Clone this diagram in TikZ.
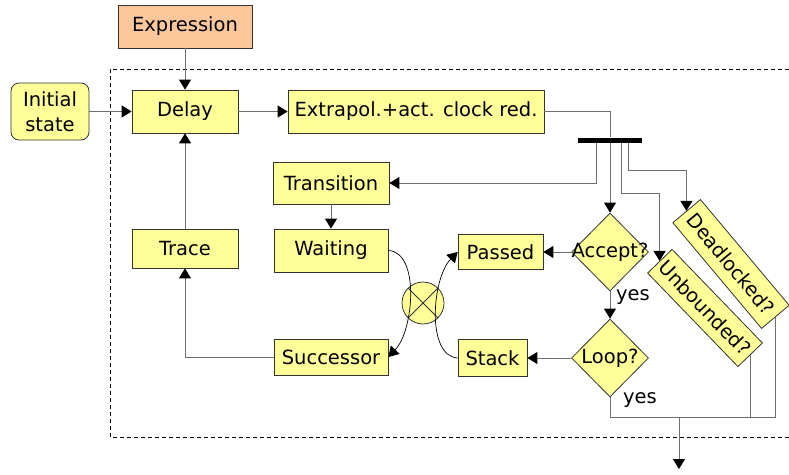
\documentclass[tikz,border=0pt]{standalone}
\usepackage{fontspec}
\setmainfont{DejaVu Sans}
\usetikzlibrary{shapes.geometric,arrows.meta}

\definecolor{boxyellow}{HTML}{FFFF99}
\definecolor{boxorange}{HTML}{FCC89B}
\definecolor{wiregray}{HTML}{6E6E6E}

\begin{document}
\begin{tikzpicture}[x=1pt,y=-1pt,
    >={Triangle[length=10pt,width=12pt,color=black]},
    every node/.style={font=\fontsize{19.5}{22}\selectfont},
    box/.style={draw=black!80,fill=boxyellow,inner sep=0pt,line width=0.8pt},
    cond/.style={diamond,draw=black!80,fill=boxyellow,inner sep=0pt,line width=0.8pt,
      minimum width=77pt,minimum height=78pt},
    flow/.style={->,draw=wiregray,line width=1pt},
    wire/.style={draw=wiregray,line width=1pt}]
    \useasboundingbox (0,0) rectangle (789,474);

    % Frame of the loop
    \draw[dash pattern=on 4pt off 3pt,line width=0.8pt] (789,69) -- (110,69) -- (110,437) -- (789,437);

    % Boxes
    \node[box,fill=boxorange,minimum width=134pt,minimum height=43pt] (expr) at (185,26.5) {Expression};
    \node[box,rounded corners=8pt,align=center,minimum width=78pt,minimum height=57pt,
      font=\fontsize{19.5}{25}\selectfont] (init) at (50,111.5) {Initial\\state};
    \node[box,minimum width=106pt,minimum height=43pt] (delay) at (185,111.5) {Delay};
    \node[box,minimum width=256pt,minimum height=43pt] (extra) at (416,111.5) {Extrapol.+act. clock red.};
    \node[box,minimum width=116pt,minimum height=42pt] (trans) at (331,183) {Transition};
    \node[box,minimum width=114pt,minimum height=43pt] (wait) at (331,250.5) {Waiting};
    \node[box,minimum width=106pt,minimum height=39pt] (trace) at (185,248.5) {Trace};
    \node[box,minimum width=114pt,minimum height=36pt] (succ) at (331,357) {Successor};
    \node[box,minimum width=85pt,minimum height=35pt] (passed) at (500.5,252) {Passed};
    \node[box,minimum width=69pt,minimum height=37pt] (stack) at (492.5,358) {Stack};

    % Tests
    \node[cond,label=center:{Accept?}] (accept) at (610,252) {};
    \node[cond,label=center:{Loop?}] (loop) at (610,358) {};
    \node[box,rotate=-50,minimum width=138pt,minimum height=36pt] (dead) at (731,264) {Deadlocked?};
    \node[box,rotate=-46,minimum width=130pt,minimum height=34pt] (unb) at (705,308) {Unbounded?};
    \node (yes1) at (633,297) {yes};
    \node (yes2) at (640,400) {yes};

    % Fork bar and merge
    \node[fill=black,inner sep=0pt,minimum width=64pt,minimum height=5pt] (fork) at (610,140) {};
    \node[circle,draw=black!80,fill=boxyellow,line width=0.8pt,minimum size=42pt,inner sep=0pt] (mix) at (423,303) {};
    \draw[black!80,line width=0.8pt] (mix.45) -- (mix.225) (mix.135) -- (mix.315);

    % Main flow
    \draw[flow] (expr) -- (delay);
    \draw[flow] (init) -- (delay);
    \draw[flow] (delay) -- (extra);
    \draw[wire] (extra.east) -| (fork.north);
    \draw[flow] (fork.south) -- (accept.north);
    \draw[flow] ([xshift=-14pt]fork.south) |- (trans);
    \draw[flow] ([xshift=11pt]fork.south) |- (unb.west |- 0,193) -- (unb.west);
    \draw[flow] ([xshift=18pt]fork.south) |- (dead.west |- 0,170) -- (dead.west);
    \draw[flow] (trans) -- (wait);
    \draw[flow] (trace) -- (delay);
    \draw[flow] (succ.west) -| (trace.south);
    \draw[flow] (accept) -- (passed);
    \draw[flow] (accept) -- (loop);
    \draw[flow] (loop) -- (stack);

    % Crossing through the merge
    \draw[->,line width=0.7pt] (wait.east) .. controls (420,252) and (414,330) .. (succ.east);
    \draw[->,line width=0.7pt] (stack.west) .. controls (426,356) and (432,278) .. (passed.west);

    % Exits
    \draw[wire] (loop.south) |- (dead.east |- 0,417) -- (dead.east);
    \draw[wire] (unb.east) -- (unb.east |- 0,417);
    \coordinate (done) at (679,417);
    \coordinate (out) at (679,469);
    \draw[flow] (done) -- (out);
\end{tikzpicture}
\end{document}
